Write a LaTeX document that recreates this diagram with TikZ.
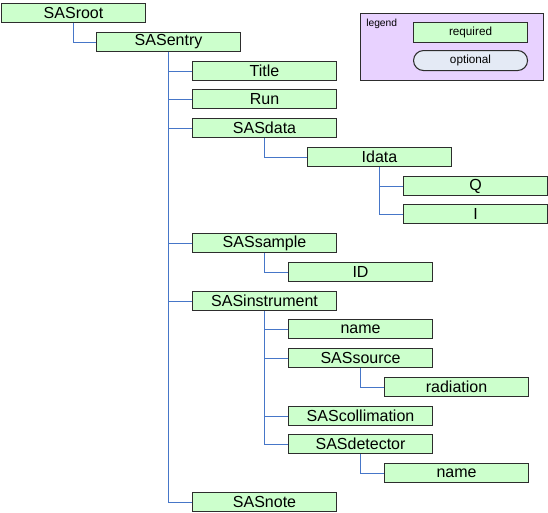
\documentclass[tikz,border=0pt]{standalone}
\usepackage{fontspec}
\setmainfont{Liberation Sans}
\usepackage{tikz}

\definecolor{boxgreen}{RGB}{204,255,204}
\definecolor{boxline}{RGB}{45,45,45}
\definecolor{linkblue}{RGB}{70,118,200}
\definecolor{legendbg}{RGB}{232,210,255}
\definecolor{optbg}{RGB}{228,234,245}

\begin{document}
\begin{tikzpicture}[x=0.75pt, y=-0.75pt,
    elem/.style={draw=boxline, line width=0.8pt, fill=boxgreen, anchor=north west,
        minimum width=108pt, minimum height=14.25pt, inner sep=0pt, font=\fontsize{12}{14}\selectfont},
    legbox/.style={draw=boxline, line width=0.8pt, anchor=north west,
        minimum width=85.5pt, minimum height=15pt, inner sep=0pt, font=\fontsize{8.8}{10}\selectfont},
    link/.style={draw=linkblue, line width=0.8pt}]
    \useasboundingbox (0,0) rectangle (548,512);

    % Legenda
    \node[draw=boxline, line width=0.8pt, fill=legendbg, anchor=north west,
        minimum width=137.25pt, minimum height=50.25pt, inner sep=0pt] (legend) at (360,13) {};
    \node[anchor=north west, inner sep=0pt, font=\fontsize{7.7}{9}\selectfont] (legendlbl) at (366,19) {legend};
    \node[legbox, fill=boxgreen] (req) at (413,22) {required};
    \node[legbox, fill=optbg, rounded corners=7.5pt] (opt) at (413,50) {optional};

    % Elementos
    \node[elem] (root) at (1,3) {SASroot};
    \node[elem] (entry) at (96,32) {SASentry};
    \node[elem] (title) at (192,61) {Title};
    \node[elem] (run) at (192,89) {Run};
    \node[elem] (data) at (192,118) {SASdata};
    \node[elem] (idata) at (307,147) {Idata};
    \node[elem] (q) at (403,176) {Q};
    \node[elem] (i) at (403,204) {I};
    \node[elem] (sample) at (192,233) {SASsample};
    \node[elem] (id) at (288,262) {ID};
    \node[elem] (instr) at (192,291) {SASinstrument};
    \node[elem] (iname) at (288,319) {name};
    \node[elem] (source) at (288,348) {SASsource};
    \node[elem] (rad) at (384,377) {radiation};
    \node[elem] (coll) at (288,406) {SAScollimation};
    \node[elem] (det) at (288,434) {SASdetector};
    \node[elem] (dname) at (384,463) {name};
    \node[elem] (note) at (192,492) {SASnote};

    % Ligações
    \draw[link] (root.south) |- (entry.west);
    \draw[link] (entry.south) |- (title.west);
    \draw[link] (entry.south) |- (run.west);
    \draw[link] (entry.south) |- (data.west);
    \draw[link] (entry.south) |- (sample.west);
    \draw[link] (entry.south) |- (instr.west);
    \draw[link] (entry.south) |- (note.west);
    \draw[link] (data.south) |- (idata.west);
    \draw[link] (idata.south) |- (q.west);
    \draw[link] (idata.south) |- (i.west);
    \draw[link] (sample.south) |- (id.west);
    \draw[link] (instr.south) |- (iname.west);
    \draw[link] (instr.south) |- (source.west);
    \draw[link] (instr.south) |- (coll.west);
    \draw[link] (instr.south) |- (det.west);
    \draw[link] (source.south) |- (rad.west);
    \draw[link] (det.south) |- (dname.west);
\end{tikzpicture}
\end{document}
